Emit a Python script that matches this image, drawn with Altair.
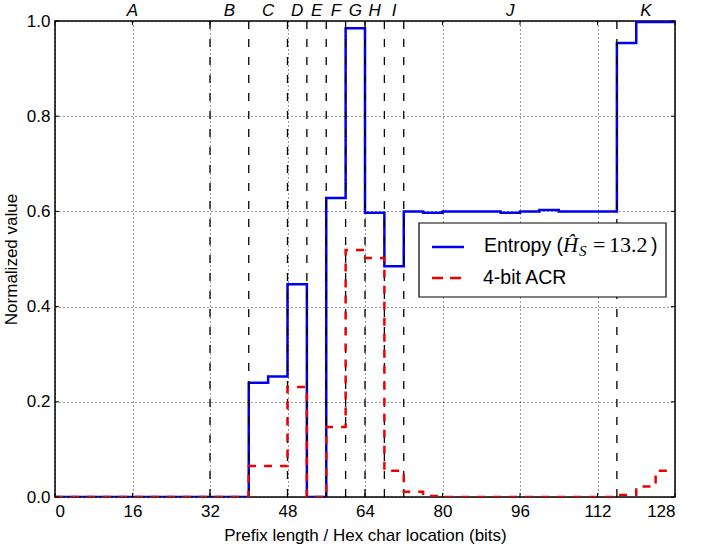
import altair as alt
import pandas as pd

# ---- data ----
nibble_x = list(range(0, 132, 4))  # 0,4,...,128 (step edges)
entropy = [0, 0, 0, 0, 0, 0, 0, 0, 0, 0,
           0.240, 0.253, 0.447, 0.0, 0.628, 0.985, 0.597, 0.485,
           0.600, 0.597, 0.600, 0.600, 0.600, 0.597, 0.600, 0.603, 0.600, 0.600, 0.600,
           0.954, 0.998, 0.998]
acr = [0, 0, 0, 0, 0, 0, 0, 0, 0, 0,
       0.065, 0.065, 0.231, 0.0, 0.147, 0.519, 0.502, 0.055,
       0.011, 0.002, 0, 0, 0, 0, 0, 0, 0, 0, 0,
       0.004, 0.022, 0.055]
segment_bounds = [0, 32, 40, 48, 52, 56, 60, 64, 68, 72, 116, 128]
segment_labels = ["A", "B", "C", "D", "E", "F", "G", "H", "I", "J", "K"]
x_ticks = [0, 16, 32, 48, 64, 80, 96, 112, 128]
y_ticks = [0.0, 0.2, 0.4, 0.6, 0.8, 1.0]

W, H = 620, 476
FONT = "Liberation Sans"
SERIF = "Liberation Serif"

lines_df = pd.DataFrame({
    "x": nibble_x,
    "entropy": entropy + [entropy[-1]],
    "acr": acr + [acr[-1]],
})
vlines_df = pd.DataFrame({"x": segment_bounds[1:-1]})
labels_df = pd.DataFrame({
    "x": [(a + b) / 2 for a, b in zip(segment_bounds[:-1], segment_bounds[1:])],
    "label": segment_labels,
})
xt_df = pd.DataFrame({"x": x_ticks})
yt_df = pd.DataFrame({"y": y_ticks})

xscale = alt.Scale(domain=[0, 128], nice=False, zero=False)
yscale = alt.Scale(domain=[0, 1], nice=False, zero=False)

x_enc = alt.X("x:Q", scale=xscale, title="Prefix length / Hex char location (bits)",
              axis=alt.Axis(values=x_ticks, format="d", grid=True, gridDash=[1, 3],
                            gridColor="black", gridOpacity=1, gridWidth=0.8,
                            domain=False, ticks=False, labelPadding=6,
                            labelFontSize=17, labelFont=FONT, labelColor="black",
                            titleFont=FONT, titleFontSize=17, titleFontWeight="normal",
                            titleColor="black", titlePadding=8))
y_axis = alt.Axis(values=y_ticks, format=".1f", grid=True, gridDash=[1, 3],
                  gridColor="black", gridOpacity=1, gridWidth=0.8,
                  domain=False, ticks=False, labelPadding=5,
                  labelFontSize=17, labelFont=FONT, labelColor="black",
                  titleFont=FONT, titleFontSize=17, titleFontWeight="normal",
                  titleColor="black", titlePadding=6)

base = alt.Chart(lines_df)

entropy_line = base.mark_line(color="#0000ee", strokeWidth=2.5, interpolate="step-after",
                              clip=True).encode(
    x=x_enc,
    y=alt.Y("entropy:Q", scale=yscale, title="Normalized value", axis=y_axis),
)

acr_line = base.mark_line(color="#ee0000", strokeWidth=2.5, strokeDash=[8, 8],
                          interpolate="step-after", clip=True).encode(
    x=alt.X("x:Q", scale=xscale),
    y=alt.Y("acr:Q", scale=yscale),
)

vlines = alt.Chart(vlines_df).mark_rule(color="black", strokeWidth=1.3,
                                        strokeDash=[8, 10]).encode(
    x=alt.X("x:Q", scale=xscale),
    y=alt.value(0), y2=alt.value(H),
)

seg_text = alt.Chart(labels_df).mark_text(fontStyle="italic", fontSize=17, font=FONT,
                                          baseline="middle", align="center",
                                          color="black").encode(
    x=alt.X("x:Q", scale=xscale),
    y=alt.value(-10),
    text="label:N",
)

# inner tick marks (matplotlib classic style)
xt_bottom = alt.Chart(xt_df).mark_rule(color="black", strokeWidth=1).encode(
    x=alt.X("x:Q", scale=xscale), y=alt.value(H), y2=alt.value(H - 4))
xt_top = alt.Chart(xt_df).mark_rule(color="black", strokeWidth=1).encode(
    x=alt.X("x:Q", scale=xscale), y=alt.value(0), y2=alt.value(4))
yt_left = alt.Chart(yt_df).mark_rule(color="black", strokeWidth=1).encode(
    y=alt.Y("y:Q", scale=yscale), x=alt.value(0), x2=alt.value(4))
yt_right = alt.Chart(yt_df).mark_rule(color="black", strokeWidth=1).encode(
    y=alt.Y("y:Q", scale=yscale), x=alt.value(W), x2=alt.value(W - 4))

# custom legend (pixel placement inside the plot area)
one = pd.DataFrame({"k": [0]})
lg = alt.Chart(one)
leg_box = lg.mark_rect(fill="white", stroke="black", strokeWidth=1.2).encode(
    x=alt.value(364), x2=alt.value(611), y=alt.value(202), y2=alt.value(276))
leg_l1 = lg.mark_rule(color="#0000ee", strokeWidth=2.5).encode(
    x=alt.value(377), x2=alt.value(409), y=alt.value(226))
leg_l2 = lg.mark_rule(color="#ee0000", strokeWidth=2.5, strokeDash=[11, 7]).encode(
    x=alt.value(377), x2=alt.value(409), y=alt.value(257))
t_common = dict(align="left", baseline="alphabetic", color="black")
leg_t1 = lg.mark_text(font=FONT, fontSize=19.5, **t_common).encode(
    x=alt.value(429), y=alt.value(231), text=alt.value("Entropy ("))
leg_h = lg.mark_text(font=SERIF, fontSize=21, fontStyle="italic", **t_common).encode(
    x=alt.value(508), y=alt.value(231), text=alt.value("Ĥ"))
leg_s = lg.mark_text(font=SERIF, fontSize=15, fontStyle="italic", **t_common).encode(
    x=alt.value(524), y=alt.value(235), text=alt.value("S"))
leg_eq = lg.mark_text(font=SERIF, fontSize=22, **t_common).encode(
    x=alt.value(538), y=alt.value(231), text=alt.value("="))
leg_num = lg.mark_text(font=SERIF, fontSize=22, **t_common).encode(
    x=alt.value(554), y=alt.value(231), text=alt.value("13.2"))
leg_cp = lg.mark_text(font=FONT, fontSize=19.5, **t_common).encode(
    x=alt.value(596), y=alt.value(231), text=alt.value(")"))
leg_t2 = lg.mark_text(font=FONT, fontSize=19.5, **t_common).encode(
    x=alt.value(428), y=alt.value(263), text=alt.value("4-bit ACR"))

chart = alt.layer(
    entropy_line, vlines, acr_line, xt_bottom, xt_top, yt_left, yt_right, seg_text,
    leg_box, leg_l1, leg_l2, leg_t1, leg_h, leg_s, leg_eq, leg_num, leg_cp, leg_t2,
).properties(
    width=W, height=H,
    autosize=alt.AutoSizeParams(type="none"),
    padding={"left": 55, "top": 21, "right": 35, "bottom": 53},
    background="white",
).configure_view(stroke="black", strokeWidth=1.5)

chart.save("out.html", embed_options={"renderer": "svg", "actions": False})
